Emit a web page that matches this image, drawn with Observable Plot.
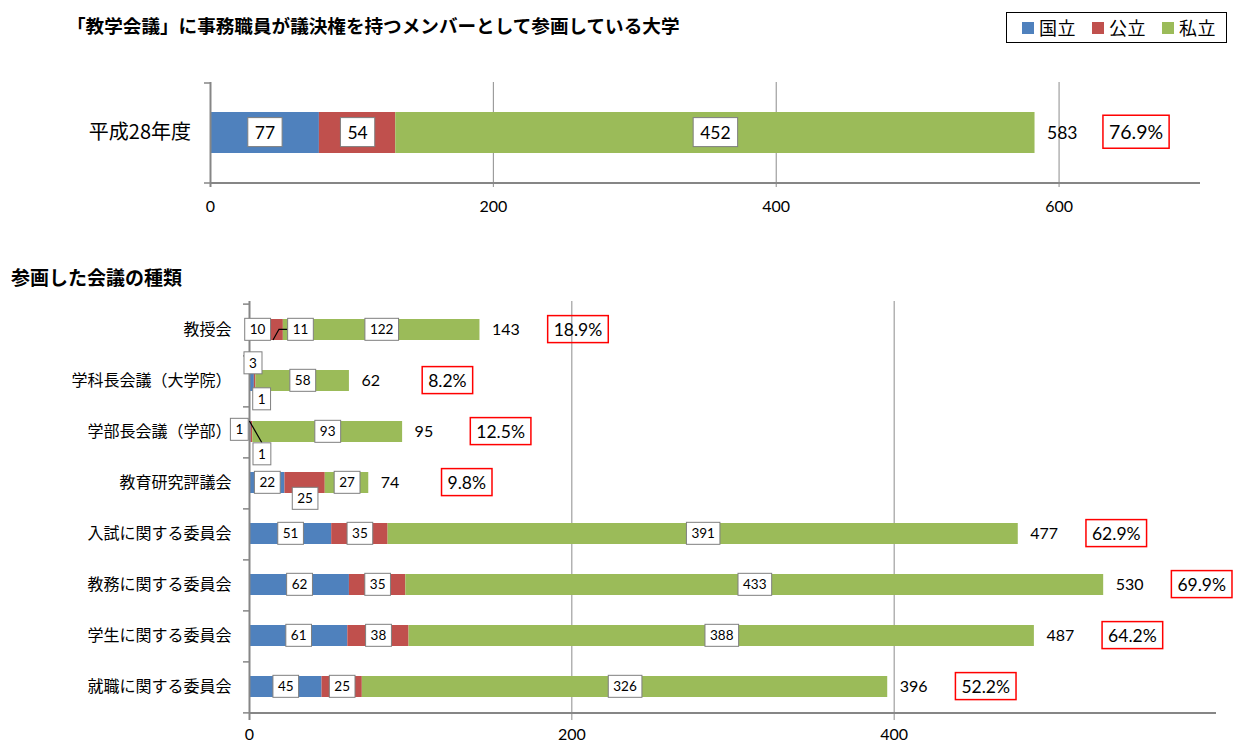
<!DOCTYPE html>
<html>
<head>
<meta charset="utf-8">
<script src="https://cdn.jsdelivr.net/npm/d3@7"></script>
<script src="https://cdn.jsdelivr.net/npm/@observablehq/plot@0.6"></script>
<style>
  html, body { margin: 0; padding: 0; background: #fff; }
  #page { position: relative; width: 1236px; height: 745px; overflow: hidden; font-family: Lato, "Noto Sans CJK JP", sans-serif; color: #000; }
  #title { position: absolute; left: 67px; top: 11px; font-family: "Noto Sans CJK JP", sans-serif; font-weight: bold; font-size: 18.6px; line-height: 28px; white-space: nowrap; }
  #legend { position: absolute; left: 1006px; top: 12px; width: 204px; height: 29px; border: 1px solid #000; box-sizing: content-box; display: flex; align-items: center; padding-left: 15px; white-space: nowrap; }
  #legend .item { display: flex; align-items: center; flex: none; }
  #legend .sw { width: 12px; height: 12px; margin-right: 5px; flex: none; }
  #legend .lab { font-family: "Noto Sans CJK JP", sans-serif; font-size: 18px; letter-spacing: 0.5px; margin-right: 16px; line-height: 29px; white-space: nowrap; flex: none; }
  #sub { position: absolute; left: 11px; top: 263px; font-family: "Noto Sans CJK JP", sans-serif; font-weight: bold; font-size: 19px; line-height: 28px; white-space: nowrap; }
  #topChart { position: absolute; left: 0; top: 60px; }
  #bottomChart { position: absolute; left: 0; top: 290px; }
</style>
</head>
<body>
<div id="page">
  <div id="title"></div>
  <div id="legend"></div>
  <div id="sub"></div>
  <div id="topChart"></div>
  <div id="bottomChart"></div>
</div>
<script>
// ---------------- data ----------------
const titleText = "「教学会議」に事務職員が議決権を持つメンバーとして参画している大学";
const subtitleText = "参画した会議の種類";
const seriesNames = ["国立", "公立", "私立"];
const seriesColors = ["#4F81BD", "#C0504D", "#9BBB59"];

const topCategories = ["平成28年度"];
const topNational = [77];
const topPublic = [54];
const topPrivate = [452];
const topTotals = [583];
const topShares = ["76.9%"];
const topTicks = [0, 200, 400, 600];
const topGrid = [200, 400, 600];

const categories = ["教授会", "学科長会議（大学院）", "学部長会議（学部）", "教育研究評議会",
  "入試に関する委員会", "教務に関する委員会", "学生に関する委員会", "就職に関する委員会"];
const national = [10, 3, 1, 22, 51, 62, 61, 45];
const publicU = [11, 1, 1, 25, 35, 35, 38, 25];
const privateU = [122, 58, 93, 27, 391, 433, 388, 326];
const totals = [143, 62, 95, 74, 477, 530, 487, 396];
const shares = ["18.9%", "8.2%", "12.5%", "9.8%", "62.9%", "69.9%", "64.2%", "52.2%"];
const bottomTicks = [0, 200, 400];
const bottomGrid = [200, 400];

// ---------------- header / legend ----------------
document.getElementById("title").textContent = titleText;
document.getElementById("sub").textContent = subtitleText;
const legend = d3.select("#legend");
seriesNames.forEach((s, i) => {
  const it = legend.append("div").attr("class", "item");
  it.append("div").attr("class", "sw").style("background", seriesColors[i]);
  it.append("div").attr("class", "lab").text(s);
});

// ---------------- helpers ----------------
function toRows(cats, lists) {
  const rows = [];
  cats.forEach((c, i) => {
    let start = 0;
    seriesNames.forEach((s, j) => {
      const v = lists[j][i];
      rows.push({category: c, series: s, value: v, mid: start + v / 2, key: c + "|" + s});
      start += v;
    });
  });
  return rows;
}

function boxTexts(svg, desc, o) {
  svg.querySelectorAll(`g[aria-description="${desc}"] text`).forEach(t => {
    const b = t.getBBox();
    const r = document.createElementNS("http://www.w3.org/2000/svg", "rect");
    r.setAttribute("x", b.x - o.padX);
    r.setAttribute("y", b.y - o.padY);
    r.setAttribute("width", b.width + 2 * o.padX);
    r.setAttribute("height", b.height + 2 * o.padY);
    r.setAttribute("fill", o.fill);
    r.setAttribute("stroke", o.stroke);
    r.setAttribute("stroke-width", o.strokeWidth);
    const tr = t.getAttribute("transform");
    if (tr) r.setAttribute("transform", tr);
    t.parentNode.insertBefore(r, t);
  });
}

const axisColor = "#868686";
const gridColor = "#8c8c8c";

function stackedChart(cfg) {
  const {cats, lists, tots, shs, height, marginLeft, marginRight, marginTop, marginBottom,
    xMax, ticks, grid, catFont, catDx, innerFont, totalFont, shareFont, shareDx, nudges, tickPadding} = cfg;
  const rows = toRows(cats, lists);
  const step = (height - marginTop - marginBottom) / cats.length;
  const plainRows = rows.filter(r => !nudges[r.key]);
  const nudgedRows = rows.filter(r => nudges[r.key]);
  const totalRows = cats.map((c, i) => ({category: c, total: tots[i], share: shs[i]}));
  const last = cats[cats.length - 1];

  const marks = [
    Plot.ruleX(grid, {stroke: gridColor, strokeWidth: 1, insetBottom: -5}),
    Plot.barX(rows, Plot.stackX({x: "value", y: "category", fill: "series"})),
    Plot.ruleX([0], {stroke: axisColor, strokeWidth: 2, insetBottom: -5}),
    Plot.ruleY(cats, {y: d => d, x1: 0, x2: 0, insetLeft: -6, dy: step / 2, stroke: axisColor, strokeWidth: 1.5}),
    Plot.ruleY([cats[0]], {y: d => d, x1: 0, x2: 0, insetLeft: -6, dy: -step / 2, stroke: axisColor, strokeWidth: 1.5}),
    Plot.ruleY([last], {y: d => d, x1: 0, x2: xMax, dy: step / 2, stroke: axisColor, strokeWidth: 2}),
    Plot.text(cats, {x: 0, y: d => d, text: d => d, textAnchor: "end", dx: catDx, fontSize: catFont,
      fontFamily: "'Noto Sans CJK JP', sans-serif", fill: "#000"}),
    Plot.text(plainRows, {x: "mid", y: "category", text: r => String(r.value), fontSize: innerFont,
      fill: "#000", ariaDescription: "inner-label"}),
    ...nudgedRows.map(r => Plot.text([r], {x: "mid", y: "category", text: d => String(d.value),
      dx: nudges[r.key].dx, dy: nudges[r.key].dy, fontSize: innerFont, fill: "#000",
      ariaDescription: "nudged-" + (nudges[r.key].leader || "none")})),
    Plot.text(totalRows, {x: "total", y: "category", text: r => String(r.total), textAnchor: "start",
      dx: 12, fontSize: totalFont, fill: "#000"}),
    Plot.text(totalRows, {x: "total", y: "category", text: "share", textAnchor: "middle",
      dx: shareDx, fontSize: shareFont, fill: "#000", ariaDescription: "share-label"})
  ];

  return Plot.plot({
    width: 1236, height, marginLeft, marginRight, marginTop, marginBottom,
    x: {domain: [0, xMax], ticks, tickSize: 0, tickPadding, tickFormat: d => String(d), label: null},
    y: {domain: cats, axis: null, paddingInner: 0.59, paddingOuter: 0.295},
    color: {domain: seriesNames, range: seriesColors},
    style: {fontFamily: "Lato, 'Noto Sans CJK JP', sans-serif", fontSize: "16px", color: "#000",
      background: "transparent", overflow: "visible"},
    marks
  });
}

function decorate(svg, cfg) {
  const inner = {padX: cfg.innerPadX, padY: cfg.innerPadY, fill: "#fff", stroke: "#7f7f7f", strokeWidth: 1};
  boxTexts(svg, "inner-label", inner);
  ["none", "elbow", "diag"].forEach(k => boxTexts(svg, "nudged-" + k, inner));
  boxTexts(svg, "share-label", {padX: cfg.sharePadX, padY: cfg.sharePadY, fill: "none", stroke: "#ff0000", strokeWidth: 1.5});
}

function drawLeaders(plot, cfg) {
  const sx = plot.scale("x"), sy = plot.scale("y");
  const svgRect = plot.getBoundingClientRect();
  const rows = toRows(cfg.cats, cfg.lists);
  const done = new Set();
  ["elbow", "diag"].forEach(kind => {
    plot.querySelectorAll(`g[aria-description="nudged-${kind}"]`).forEach(g => {
      const datum = rows.find(r => cfg.nudges[r.key] && cfg.nudges[r.key].leader === kind &&
        g.textContent.trim() === String(r.value) && !done.has(r.key));
      if (!datum) return;
      done.add(datum.key);
      const box = g.querySelector("rect");
      if (!box) return;
      const br = box.getBoundingClientRect();
      const left = br.left - svgRect.left, top = br.top - svgRect.top;
      const cx = left + br.width / 2, cy = top + br.height / 2;
      const xm = sx.apply(datum.mid);
      const yc = sy.apply(datum.category) + sy.bandwidth / 2;
      const hb = sy.bandwidth / 2;
      const d = kind === "elbow"
        ? `M${xm - 1},${yc + hb} L${xm + 5},${cy} L${left},${cy}`
        : `M${xm - 2},${yc - hb} L${cx},${top}`;
      d3.select(plot).insert("path", `g[aria-description="nudged-${kind}"]`)
        .attr("d", d).attr("fill", "none").attr("stroke", "#000").attr("stroke-width", 1.2);
    });
  });
}

// ---------------- top chart ----------------
const topCfg = {
  cats: topCategories, lists: [topNational, topPublic, topPrivate], tots: topTotals, shs: topShares,
  height: 162, marginLeft: 210, marginRight: 36, marginTop: 22, marginBottom: 40,
  xMax: 700, ticks: topTicks, grid: topGrid, catFont: 20, catDx: -19.5, tickPadding: 18,
  innerFont: 17.5, totalFont: 17.5, shareFont: 19.5, shareDx: 101, nudges: {},
  innerPadX: 7, innerPadY: 4, sharePadX: 6, sharePadY: 5
};
const topPlot = stackedChart(topCfg);
document.getElementById("topChart").appendChild(topPlot);
decorate(topPlot, topCfg);

// ---------------- bottom chart ----------------
const bottomNudges = {
  "教授会|公立": {dx: 26, dy: 0, leader: "elbow"},
  "学科長会議（大学院）|国立": {dx: 1, dy: -17.5},
  "学科長会議（大学院）|公立": {dx: 6.5, dy: 18.5},
  "学部長会議（学部）|国立": {dx: -11, dy: -2},
  "学部長会議（学部）|公立": {dx: 10, dy: 22.5, leader: "diag"},
  "教育研究評議会|公立": {dx: 0, dy: 16}
};
const bottomCfg = {
  cats: categories, lists: [national, publicU, privateU], tots: totals, shs: shares,
  height: 455, marginLeft: 249, marginRight: 20, marginTop: 11, marginBottom: 30,
  xMax: 600, ticks: bottomTicks, grid: bottomGrid, catFont: 16, catDx: -18, tickPadding: 13,
  innerFont: 13.5, totalFont: 16, shareFont: 17.5, shareDx: 98, nudges: bottomNudges,
  innerPadX: 5, innerPadY: 3, sharePadX: 6, sharePadY: 3
};
const bottomPlot = stackedChart(bottomCfg);
document.getElementById("bottomChart").appendChild(bottomPlot);
decorate(bottomPlot, bottomCfg);
try { drawLeaders(bottomPlot, bottomCfg); } catch (e) { console.error(e); }
</script>
</body>
</html>
